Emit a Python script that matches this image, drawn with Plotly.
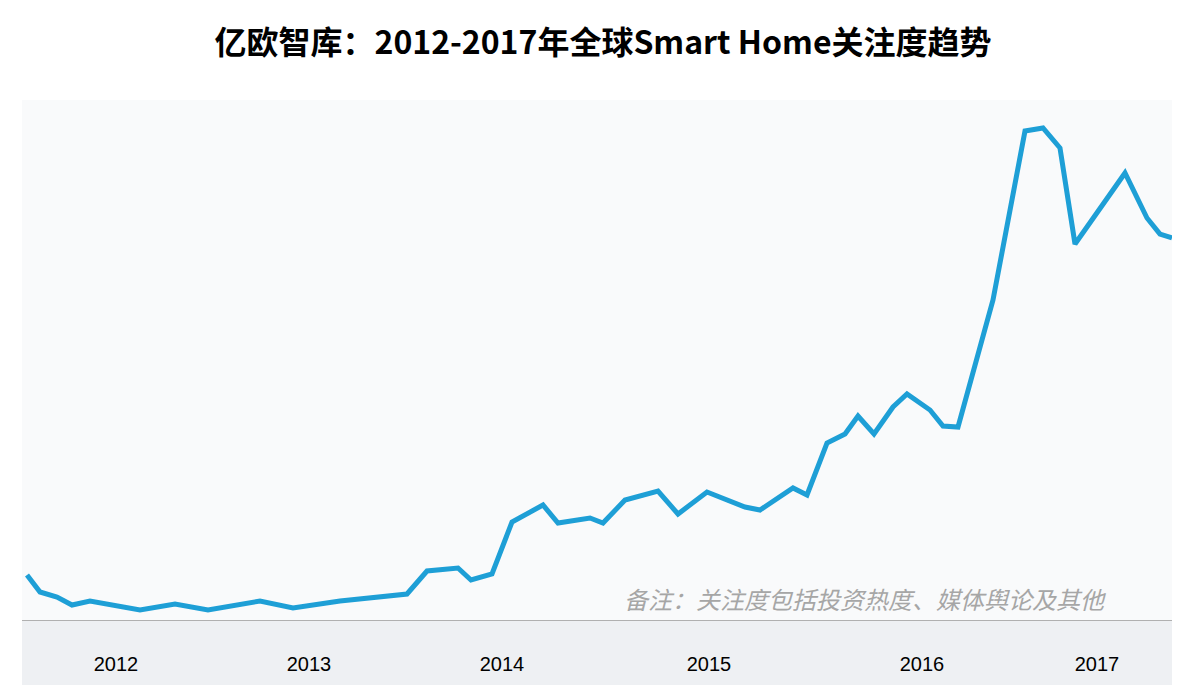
import plotly.graph_objects as go

# horizontal position (timeline units) and attention index
x_pos = [27, 40, 57, 72, 90, 140, 175, 208, 260, 293, 340, 407, 427, 458, 471, 492,
         512, 543, 558, 590, 603, 625, 658, 678, 707, 745, 760, 793, 807, 827, 845,
         858, 874, 893, 907, 930, 943, 958, 993, 1025, 1043, 1060, 1075, 1125, 1147,
         1160, 1172]
index = [45, 28, 23, 15, 19, 10, 16, 10, 19, 12, 19, 26, 49, 52, 40, 46,
         98, 115, 97, 102, 97, 120, 129, 106, 128, 113, 110, 132, 125, 177, 186,
         204, 186, 213, 226, 210, 194, 193, 320, 489, 492, 472, 376, 447, 402,
         386, 382]
year_labels = ["2012", "2013", "2014", "2015", "2016", "2017"]
year_pos = [116, 309, 502, 709, 922, 1097]

fig = go.Figure()
fig.add_trace(go.Scatter(x=x_pos, y=index, mode="lines",
                         line=dict(color="#1e9fd6", width=5), hoverinfo="skip"))

fig.add_shape(type="rect", xref="paper", yref="paper", x0=0, x1=1, y0=-0.125, y1=0,
              fillcolor="#eef0f3", line_width=0, layer="below")

fig.add_annotation(text="<i>备注：关注度包括投资热度、媒体舆论及其他</i>", x=865, y=22,
                   xref="x", yref="y", showarrow=False,
                   font=dict(size=24, color="#a6a6a6", family="Noto Sans CJK SC"))

fig.update_layout(
    width=1190, height=688,
    margin=dict(l=14, r=26, t=92, b=76),
    paper_bgcolor="white", plot_bgcolor="#f9fafb",
    showlegend=False,
    title=dict(text="<b>亿欧智库：2012-2017年全球Smart Home关注度趋势</b>",
               x=0.5, xanchor="center", y=0.95, yanchor="middle",
               font=dict(size=32, color="black", family="Noto Sans CJK SC")),
    xaxis=dict(range=[22, 1172], tickvals=year_pos, ticktext=year_labels,
               showgrid=False, zeroline=False, showline=True, linecolor="#b0b0b0",
               linewidth=1, ticks="", ticklabelstandoff=26,
               tickfont=dict(size=20, color="black", family="Liberation Sans")),
    yaxis=dict(range=[0, 520], visible=False, showgrid=False),
)

fig.write_html("out.html")
